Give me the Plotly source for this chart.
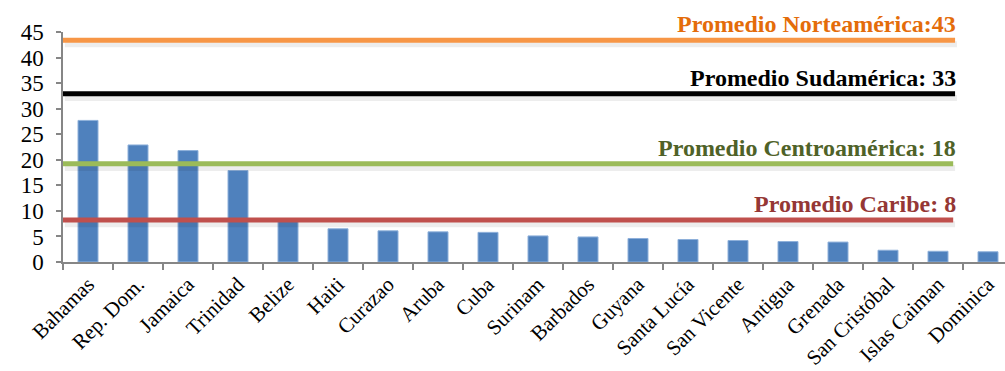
import plotly.graph_objects as go

countries = ["Bahamas", "Rep. Dom.", "Jamaica", "Trinidad", "Belize", "Haiti", "Curazao",
             "Aruba", "Cuba", "Surinam", "Barbados", "Guyana", "Santa Lucía", "San Vicente",
             "Antigua", "Grenada", "San Cristóbal", "Islas Caiman", "Dominica"]
values = [27.7, 22.9, 21.8, 17.9, 8.0, 6.5, 6.1, 5.9, 5.8, 5.1, 4.9, 4.6, 4.4, 4.2,
          4.0, 3.9, 2.3, 2.1, 2.0]

avg_labels = ["Promedio Norteamérica:43", "Promedio Sudamérica: 33",
              "Promedio Centroamérica: 18", "Promedio Caribe: 8"]
avg_values = [43.4, 32.9, 19.2, 8.2]
line_colors = ["#F79646", "#000000", "#9BBB59", "#C0504D"]
text_colors = ["#E46C0A", "#000000", "#4F6228", "#953735"]
line_ends = [0.947, 0.947, 0.945, 0.945]

fig = go.Figure()
fig.add_trace(go.Bar(
    x=countries, y=values,
    marker=dict(color="#4F81BD", line=dict(color="#8EB0DA", width=1)),
    width=0.4,
))

for lab, v, lc, tc, xe in zip(avg_labels, avg_values, line_colors, text_colors, line_ends):
    fig.add_shape(type="line", xref="paper", yref="y", x0=0.002, x1=xe + 0.002, y0=v - 0.8, y1=v - 0.8,
                  line=dict(color="rgba(0,0,0,0.07)", width=6), layer="above")
    fig.add_shape(type="line", xref="paper", yref="y", x0=0, x1=xe, y0=v, y1=v,
                  line=dict(color=lc, width=5), layer="above")
    fig.add_annotation(text="<b>" + lab + "</b>", xref="paper", yref="y", x=0.950, y=v,
                       xanchor="right", yanchor="bottom", yshift=1, showarrow=False,
                       font=dict(family="Liberation Serif", size=24, color=tc))

fig.update_layout(
    width=1005, height=371,
    margin=dict(l=63, r=0, t=32, b=109),
    plot_bgcolor="white", paper_bgcolor="white",
    showlegend=False,
    font=dict(family="Liberation Serif", size=21, color="black"),
)
fig.update_yaxes(range=[0, 45], dtick=5, showgrid=False, zeroline=False,
                 showline=True, linecolor="#868686", linewidth=1.5,
                 ticks="outside", ticklen=5, tickcolor="#868686", tickwidth=1.5,
                 ticklabelstandoff=8,
                 tickfont=dict(family="Liberation Serif", size=23, color="black"))
fig.update_xaxes(range=[-0.5, 18.34], showgrid=False, showline=True, linecolor="#868686",
                 linewidth=1.5, ticks="outside", ticklen=6, tickcolor="#868686", tickwidth=1.5,
                 tickson="boundaries", tickangle=-45,
                 tickfont=dict(family="Liberation Serif", size=21, color="black"))

fig.write_html("out.html")
